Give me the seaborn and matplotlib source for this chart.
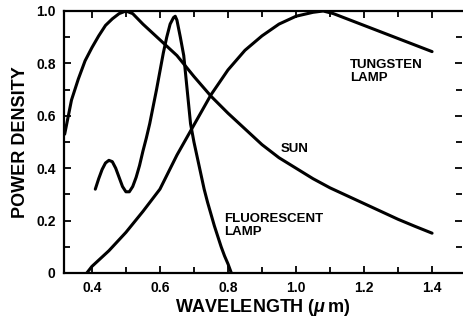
import numpy as np
import pandas as pd
import seaborn as sns
import matplotlib.pyplot as plt
from matplotlib.ticker import MultipleLocator, FuncFormatter

# curves (wavelength in um, relative power density)
sun_x = [0.32, 0.34, 0.36, 0.38, 0.40, 0.42, 0.44, 0.46, 0.48, 0.50, 0.52, 0.55,
         0.60, 0.65, 0.70, 0.75, 0.80, 0.85, 0.90, 0.95, 1.00, 1.05, 1.10, 1.15,
         1.20, 1.25, 1.30, 1.35, 1.40]
sun_y = [0.53, 0.66, 0.74, 0.81, 0.86, 0.905, 0.945, 0.97, 0.99, 1.0, 0.99, 0.95,
         0.89, 0.83, 0.75, 0.675, 0.61, 0.55, 0.49, 0.44, 0.40, 0.36, 0.325, 0.295,
         0.265, 0.235, 0.205, 0.178, 0.152]

fluor_x = [0.41, 0.42, 0.43, 0.44, 0.45, 0.46, 0.47, 0.48, 0.49, 0.50, 0.51, 0.52,
           0.53, 0.54, 0.55, 0.56, 0.57, 0.58, 0.59, 0.60, 0.61, 0.62, 0.63, 0.64,
           0.645, 0.65, 0.66, 0.67, 0.68, 0.69, 0.70, 0.71, 0.72, 0.73, 0.74, 0.75,
           0.76, 0.77, 0.78, 0.79, 0.80, 0.81]
fluor_y = [0.32, 0.36, 0.395, 0.42, 0.43, 0.425, 0.40, 0.365, 0.33, 0.31, 0.31, 0.33,
           0.365, 0.41, 0.465, 0.515, 0.57, 0.635, 0.70, 0.77, 0.84, 0.90, 0.95, 0.975,
           0.98, 0.965, 0.90, 0.83, 0.70, 0.57, 0.50, 0.44, 0.38, 0.32, 0.27, 0.225,
           0.18, 0.14, 0.10, 0.065, 0.035, 0.0]

tung_x = [0.385, 0.40, 0.45, 0.50, 0.55, 0.60, 0.65, 0.70, 0.75, 0.80, 0.85, 0.90,
          0.95, 1.00, 1.05, 1.08, 1.11, 1.15, 1.20, 1.25, 1.30, 1.35, 1.40]
tung_y = [0.0, 0.025, 0.085, 0.155, 0.235, 0.32, 0.45, 0.565, 0.68, 0.775, 0.85, 0.905,
          0.95, 0.98, 0.995, 1.0, 0.99, 0.97, 0.945, 0.92, 0.895, 0.87, 0.845]

labels = ['SUN', 'FLUORESCENT\nLAMP', 'TUNGSTEN\nLAMP']
label_pos = [(0.955, 0.495), (0.79, 0.228), (1.158, 0.818)]

df = pd.concat([
    pd.DataFrame({'wl': sun_x, 'pd': sun_y, 'src': 'sun'}),
    pd.DataFrame({'wl': fluor_x, 'pd': fluor_y, 'src': 'fluor'}),
    pd.DataFrame({'wl': tung_x, 'pd': tung_y, 'src': 'tung'}),
])

sns.set_style('ticks')
plt.rcParams['font.family'] = ['Liberation Sans', 'DejaVu Sans']
plt.rcParams['font.weight'] = 'bold'
plt.rcParams['mathtext.fontset'] = 'custom'
plt.rcParams['mathtext.it'] = 'Liberation Sans:italic:bold'
plt.rcParams['mathtext.rm'] = 'Liberation Sans:bold'
for key in ['text.color', 'axes.labelcolor', 'xtick.color', 'ytick.color']:
    plt.rcParams[key] = 'black'

fig = plt.figure(figsize=(4.63, 3.17), dpi=100)
ax = fig.add_axes([64 / 463, 44 / 317, 398 / 463, 262 / 317])

sns.lineplot(data=df, x='wl', y='pd', hue='src', units='src', estimator=None,
             sort=False, palette=['black'] * 3, linewidth=2.2, legend=False, ax=ax)

for txt, (x, y) in zip(labels, label_pos):
    ax.text(x, y, txt, fontsize=9.5, fontweight='bold', ha='left', va='top',
            linespacing=1.1, color='black')

ax.set_xlim(0.318, 1.488)
ax.set_ylim(0, 1.0)
ax.xaxis.set_major_locator(MultipleLocator(0.2))
ax.xaxis.set_minor_locator(MultipleLocator(0.1))
ax.yaxis.set_major_locator(MultipleLocator(0.2))
ax.yaxis.set_minor_locator(MultipleLocator(0.1))
ax.yaxis.set_major_formatter(FuncFormatter(lambda v, p: '0' if abs(v) < 1e-9 else f'{v:.1f}'))
ax.tick_params(which='both', direction='in', top=True, right=True, width=1.3,
               labelsize=10, color='black', labelcolor='black')
ax.tick_params(which='major', length=5, pad=6)
ax.tick_params(which='minor', length=4)
for lab in ax.get_xticklabels() + ax.get_yticklabels():
    lab.set_fontweight('bold')

for side in ['left', 'bottom', 'top']:
    ax.spines[side].set_linewidth(1.6)
    ax.spines[side].set_color('black')
ax.spines['right'].set_visible(False)

ax.set_xlabel('WAVELENGTH ($\\mu\\,$m)', fontsize=13, fontweight='bold', labelpad=1)
ax.set_ylabel('POWER DENSITY', fontsize=13, fontweight='bold', labelpad=5)

fig.savefig('out.png', dpi=100)
